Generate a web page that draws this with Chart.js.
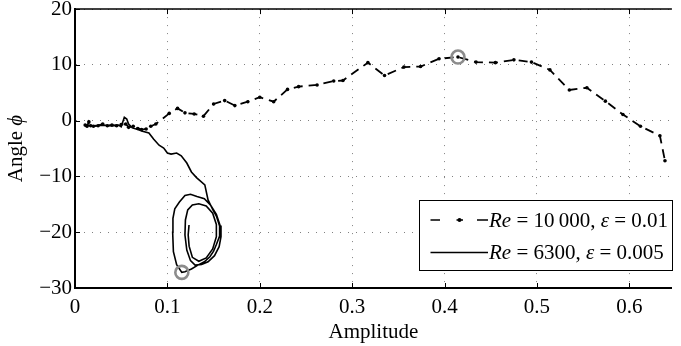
<!DOCTYPE html>
<html lang="en">
<head>
  <meta charset="UTF-8">
  <title>Angle vs Amplitude</title>
  <script src="https://cdn.jsdelivr.net/npm/chart.js"></script>
  <style>
    body {
      margin: 0;
      background-color: #fff;
    }
    #chartBox {
      width: 681px;
      height: 346px;
    }
  </style>
</head>
<body>
  <div id="chartBox">
    <canvas id="phaseChart" width="681" height="346"></canvas>
  </div>

  <script>
    // Re = 10 000, eps = 0.01 (dashed with dots)
    const highAmp = [0.011, 0.013, 0.015, 0.017, 0.020, 0.025, 0.030, 0.035, 0.040, 0.045, 0.050, 0.055, 0.058, 0.063, 0.068, 0.072, 0.077, 0.082, 0.0875,
      0.102, 0.111, 0.119, 0.129, 0.139, 0.150, 0.162, 0.173, 0.187, 0.200, 0.215, 0.230, 0.242, 0.262, 0.280, 0.290,
      0.317, 0.335, 0.356, 0.374, 0.394, 0.4145, 0.434, 0.455, 0.475, 0.494, 0.514, 0.535, 0.554, 0.574, 0.593, 0.612, 0.633, 0.6385];
    const highAngle = [-0.8, -1.0, -0.2, -0.9, -1.0, -0.9, -0.6, -0.9, -0.8, -0.9, -0.7, -0.6, -1.2, -1.0, -1.4, -1.6, -1.5, -1.0, -0.6,
      1.3, 2.2, 1.4, 1.2, 0.8, 3.0, 3.6, 2.7, 3.4, 4.2, 3.4, 5.6, 6.1, 6.4, 7.1, 7.2,
      10.4, 8.1, 9.6, 9.7, 11.1, 11.4, 10.5, 10.4, 10.9, 10.5, 9.1, 5.5, 5.9, 3.5, 1.1, -1.0, -2.7, -7.2];

    // Re = 6300, eps = 0.005 (solid)
    const lowAmp = [0.012, 0.020, 0.030, 0.040, 0.047, 0.050, 0.0534, 0.056, 0.058, 0.062, 0.068, 0.073, 0.080, 0.085, 0.091, 0.096, 0.100, 0.104, 0.110, 0.115, 0.121, 0.126, 0.1315,
      0.1405, 0.144, 0.149, 0.153, 0.1565, 0.1565, 0.153, 0.150, 0.146, 0.140, 0.133, 0.126, 0.119, 0.1156,
      0.110, 0.1065, 0.1057, 0.106, 0.108, 0.113, 0.119, 0.125, 0.132, 0.140, 0.147, 0.153, 0.157, 0.158, 0.156, 0.151, 0.144, 0.137, 0.130, 0.125,
      0.121, 0.119, 0.1195, 0.122, 0.127, 0.134, 0.142, 0.149, 0.153, 0.153, 0.149, 0.142, 0.134, 0.127, 0.1235, 0.1225, 0.1234];
    const lowAngle = [-0.8, -0.9, -0.8, -0.9, -0.8, -1.1, 0.6, 0.3, -0.6, -1.3, -1.6, -1.9, -2.2, -3.3, -4.4, -4.9, -5.8, -6.0, -5.8, -6.3, -7.6, -9.2, -10.2,
      -11.5, -14.2, -15.9, -17.1, -18.9, -20.7, -22.2, -23.4, -24.4, -25.3, -25.9, -26.6, -27.1, -27.2,
      -25.8, -23.5, -20.0, -17.5, -15.8, -14.6, -13.4, -13.2, -13.6, -14.0, -15.2, -16.8, -18.8, -20.8, -22.6, -24.2, -25.3, -25.8, -25.9, -25.1,
      -23.2, -20.5, -17.8, -16.0, -15.1, -14.9, -15.3, -16.6, -18.6, -20.8, -23.0, -24.6, -25.2, -24.5, -22.5, -20.5, -18.7];

    // highlighted instants (grey rings)
    const ringAmp = [0.4145, 0.1156];
    const ringAngle = [11.4, -27.2];

    const xTicks = [0, 0.1, 0.2, 0.3, 0.4, 0.5, 0.6];
    const yTicks = [-30, -20, -10, 0, 10, 20];

    const toPoints = (xs, ys) => xs.map((x, i) => ({ x: x, y: ys[i] }));

    const serif = "'Liberation Serif', 'Times New Roman', serif";
    const fontSize = 21;

    // top frame, inward tick marks, y title and legend
    const framePlugin = {
      id: "frame",
      afterDraw(chart) {
        const ctx = chart.ctx;
        const area = chart.chartArea;
        const xs = chart.scales.x;
        const ys = chart.scales.y;
        ctx.save();

        // top border
        ctx.strokeStyle = "#000";
        ctx.lineWidth = 1.5;
        ctx.beginPath();
        ctx.moveTo(area.left, area.top);
        ctx.lineTo(area.right, area.top);
        ctx.stroke();

        // tick marks pointing inward
        ctx.lineWidth = 1;
        ctx.beginPath();
        xTicks.forEach(v => {
          const px = Math.round(xs.getPixelForValue(v)) + 0.5;
          ctx.moveTo(px, area.bottom);
          ctx.lineTo(px, area.bottom - 5);
          ctx.moveTo(px, area.top);
          ctx.lineTo(px, area.top + 5);
        });
        yTicks.forEach(v => {
          const py = Math.round(ys.getPixelForValue(v)) + 0.5;
          ctx.moveTo(area.left, py);
          ctx.lineTo(area.left + 5, py);
        });
        ctx.stroke();

        // y axis title: "Angle φ" with italic phi
        ctx.fillStyle = "#000";
        ctx.textBaseline = "middle";
        ctx.translate(16, (area.top + area.bottom) / 2);
        ctx.rotate(-Math.PI / 2);
        ctx.font = fontSize + "px " + serif;
        const w1 = ctx.measureText("Angle ").width;
        ctx.font = "italic " + fontSize + "px " + serif;
        const w2 = ctx.measureText("\u03D5").width;
        const tx = -(w1 + w2) / 2;
        ctx.font = fontSize + "px " + serif;
        ctx.textAlign = "left";
        ctx.fillText("Angle ", tx, 0);
        ctx.font = "italic " + fontSize + "px " + serif;
        ctx.fillText("\u03D5", tx + w1, 0);
        ctx.setTransform(1, 0, 0, 1, 0, 0);

        // legend box
        const bx = 419.5, by = 200.5, bw = 253, bh = 70;
        ctx.fillStyle = "#fff";
        ctx.fillRect(bx, by, bw, bh);
        ctx.strokeStyle = "#000";
        ctx.lineWidth = 1;
        ctx.strokeRect(bx, by, bw, bh);

        const row1 = 220, row2 = 252.5;
        ctx.lineWidth = 1.6;
        ctx.beginPath();
        ctx.moveTo(430.5, row1); ctx.lineTo(440, row1);
        ctx.moveTo(456.5, row1); ctx.lineTo(463, row1);
        ctx.moveTo(477, row1); ctx.lineTo(488, row1);
        ctx.stroke();
        ctx.fillStyle = "#000";
        ctx.beginPath();
        ctx.arc(459.5, row1, 2, 0, Math.PI * 2);
        ctx.fill();

        ctx.beginPath();
        ctx.moveTo(430.5, row2); ctx.lineTo(488, row2);
        ctx.stroke();

        const drawRich = (parts, x, y) => {
          parts.forEach(p => {
            ctx.font = (p[1] ? "italic " : "") + fontSize + "px " + serif;
            ctx.fillText(p[0], x, y);
            x += ctx.measureText(p[0]).width;
          });
        };
        ctx.textAlign = "left";
        ctx.textBaseline = "alphabetic";
        drawRich([["Re", true], [" = 10\u2009000, ", false], ["\u03B5", true], [" = 0.01", false]], 489, 226.5);
        drawRich([["Re", true], [" = 6300, ", false], ["\u03B5", true], [" = 0.005", false]], 489, 259);

        ctx.restore();
      }
    };

    new Chart(document.getElementById("phaseChart"), {
      type: "scatter",
      data: {
        datasets: [
          {
            label: "markers",
            data: toPoints(ringAmp, ringAngle),
            showLine: false,
            pointRadius: 6.5,
            pointBorderWidth: 2.6,
            pointBorderColor: "#8c8c8c",
            pointBackgroundColor: "rgba(0,0,0,0)",
          },
          {
            label: "Re = 10 000, eps = 0.01",
            data: toPoints(highAmp, highAngle),
            showLine: true,
            borderColor: "#000",
            borderWidth: 1.8,
            borderDash: [9, 6],
            pointRadius: 1.8,
            pointBorderWidth: 0,
            pointBackgroundColor: "#000",
          },
          {
            label: "Re = 6300, eps = 0.005",
            data: toPoints(lowAmp, lowAngle),
            showLine: true,
            borderColor: "#000",
            borderWidth: 1.6,
            pointRadius: 0,
          },
        ],
      },
      options: {
        responsive: false,
        animation: false,
        devicePixelRatio: 1,
        layout: { padding: { top: 9, left: 0, right: 0, bottom: 0 } },
        plugins: {
          legend: { display: false },
          tooltip: { enabled: false },
        },
        scales: {
          x: {
            type: "linear",
            min: 0,
            max: 0.646,
            afterBuildTicks: s => { s.ticks = xTicks.map(v => ({ value: v })); },
            afterFit: s => { s.height = 58; s.paddingLeft = 0; s.paddingRight = 0; },
            grid: { color: "#808080", lineWidth: 1, drawTicks: false },
            border: { display: true, color: "#000", width: 2, dash: [1, 7] },
            ticks: {
              color: "#000",
              padding: 7,
              font: { family: serif, size: fontSize },
              callback: v => String(v),
            },
            title: {
              display: true,
              text: "Amplitude",
              color: "#000",
              font: { family: serif, size: fontSize },
              padding: { top: 0, bottom: 1 },
            },
          },
          y: {
            type: "linear",
            min: -30,
            max: 20,
            afterBuildTicks: s => { s.ticks = yTicks.map(v => ({ value: v })); },
            afterFit: s => { s.width = 75; s.paddingTop = 0; s.paddingBottom = 0; },
            grid: { color: "#808080", lineWidth: 1, drawTicks: false },
            border: { display: true, color: "#000", width: 2, dash: [1, 7] },
            ticks: {
              color: "#000",
              padding: 3,
              font: { family: serif, size: fontSize },
              callback: v => (v < 0 ? "\u2212" + Math.abs(v) : String(v)),
            },
          },
        },
      },
      plugins: [framePlugin],
    });
  </script>
</body>
</html>
